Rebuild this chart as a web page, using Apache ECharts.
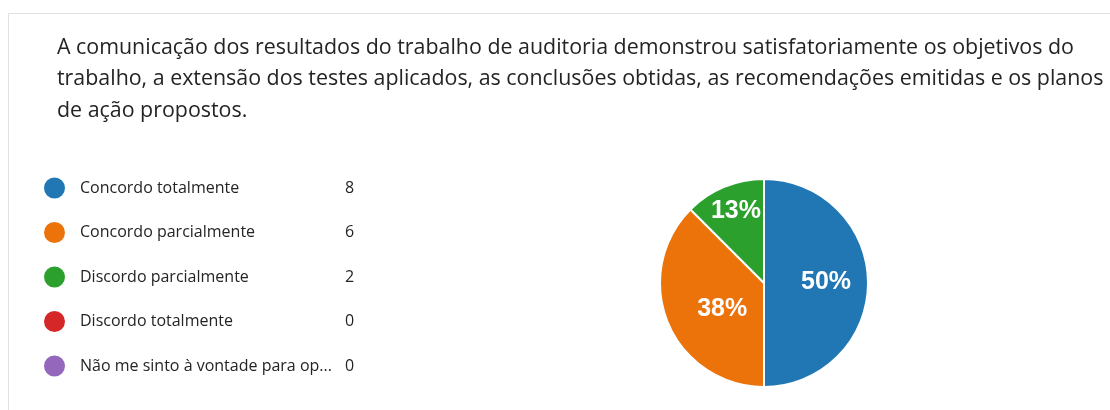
<!DOCTYPE html>
<html>
<head>
<meta charset="utf-8">
<script src="https://cdn.jsdelivr.net/npm/echarts@6/dist/echarts.min.js"></script>
<style>
  html, body { margin: 0; padding: 0; background: #fff; }
  #main { width: 1110px; height: 410px; }
</style>
</head>
<body>
<div id="main"></div>
<script>
// dados da pergunta
var titleLines = [
    'A comunicação dos resultados do trabalho de auditoria demonstrou satisfatoriamente os objetivos do',
    'trabalho, a extensão dos testes aplicados, as conclusões obtidas, as recomendações emitidas e os planos',
    'de ação propostos.'
];
var categories = ['Concordo totalmente', 'Concordo parcialmente', 'Discordo parcialmente', 'Discordo totalmente', 'Não me sinto à vontade para opinar'];
var counts = [8, 6, 2, 0, 0];
var colors = ['#2077b4', '#ec720a', '#2ca02c', '#d62728', '#9467bd'];
// pequeno ajuste das etiquetas dentro das fatias (dx, dy)
var labelShift = [[7, -1], [9, 5], [-7, -21], [0, 0], [0, 0]];

var total = counts.reduce(function (a, b) { return a + b; }, 0);
var countByName = {};
categories.forEach(function (c, i) { countByName[c] = counts[i]; });

var pieData = categories.map(function (c, i) {
    return {name: c, value: counts[i], itemStyle: {color: colors[i]}};
});

function shortName(name) {
    // corta nomes longos como no formulario
    return name.length > 30 ? name.slice(0, 30) + '...' : name;
}

var chart = echarts.init(document.getElementById('main'));
chart.setOption({
    animation: false,
    graphic: [{
        type: 'rect',
        shape: {x: 8.5, y: 13.5, width: 1200, height: 500},
        style: {fill: '#fff', stroke: '#e1e1e1', lineWidth: 1},
        z: -10
    }],
    title: {
        text: titleLines.join('\n'),
        left: 52,
        top: 27,
        textStyle: {
            fontFamily: 'Open Sans',
            fontSize: 21.4,
            fontWeight: 'normal',
            color: '#242424',
            lineHeight: 31.5
        }
    },
    legend: {
        orient: 'vertical',
        left: 37,
        top: 170.5,
        icon: 'circle',
        itemWidth: 23,
        itemHeight: 23,
        itemGap: 19.5,
        selectedMode: false,
        data: categories,
        formatter: function (name) {
            return '{n|' + shortName(name) + '}{v|' + countByName[name] + '}';
        },
        textStyle: {
            padding: [0, 0, 0, 9],
            rich: {
                n: {width: 265, fontSize: 16, lineHeight: 20, fontFamily: 'Open Sans', color: '#242424'},
                v: {fontSize: 16, lineHeight: 20, fontFamily: 'Open Sans', color: '#242424'}
            }
        }
    },
    series: [{
        type: 'pie',
        center: [764, 283],
        radius: 104,
        startAngle: 90,
        clockwise: true,
        data: pieData,
        itemStyle: {borderColor: '#fff', borderWidth: 2},
        label: {
            position: 'inside',
            formatter: function (p) {
                if (!p.value) return '';
                return Math.round(p.value / total * 100) + '%';
            },
            color: '#fff',
            fontFamily: 'Liberation Sans',
            fontWeight: 'bold',
            fontSize: 25
        },
        labelLayout: function (p) {
            var s = labelShift[p.dataIndex];
            return {dx: s[0], dy: s[1]};
        },
        labelLine: {show: false},
        emphasis: {disabled: true}
    }]
});
</script>
</body>
</html>
